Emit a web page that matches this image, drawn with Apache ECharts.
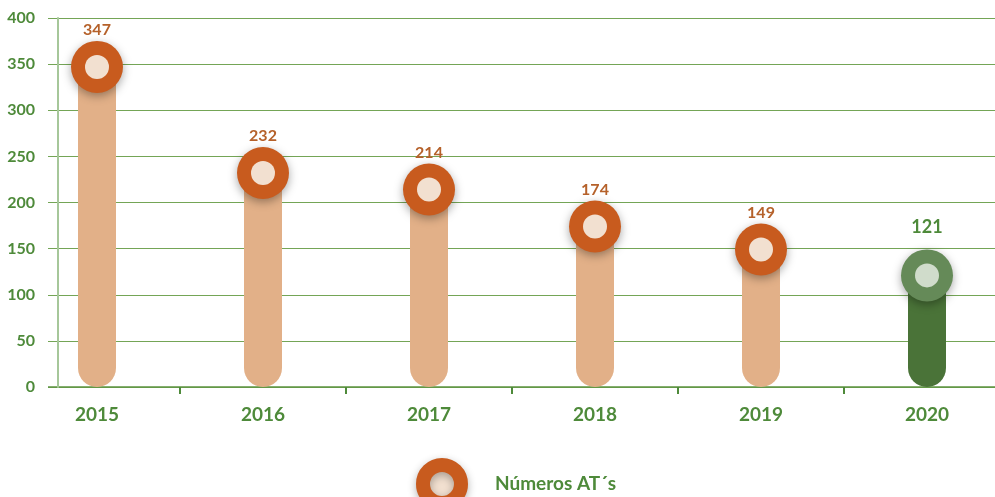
<!DOCTYPE html>
<html>
<head>
<meta charset="utf-8">
<script src="https://cdn.jsdelivr.net/npm/echarts@6/dist/echarts.min.js"></script>
<style>
  html, body { margin: 0; padding: 0; background: #fff; }
  #chart { width: 995px; height: 497px; }
</style>
</head>
<body>
<div id="chart"></div>
<script>
const years = ['2015', '2016', '2017', '2018', '2019', '2020']
const counts = [347, 232, 214, 174, 149, 121]
const yTicks = [0, 50, 100, 150, 200, 250, 300, 350, 400]
const seriesName = 'Números AT´s'

const green = '#4e8a3a'
const orange = '#c85b1e'
const last = years.length - 1

const barData = counts.map((v, i) => ({
  value: v,
  itemStyle: { color: i === last ? '#4a7338' : '#e2b088' }
}))
const outerData = counts.map((v, i) => ({
  value: v,
  itemStyle: { color: i === last ? '#658a58' : orange },
  label: {
    color: i === last ? green : '#b5612a',
    fontSize: i === last ? 18 : 16,
    offset: [0, i === last ? -10 : 0]
  }
}))
const innerData = counts.map((v, i) => ({
  value: v,
  itemStyle: { color: i === last ? '#d0dccb' : '#f2e0d0' }
}))

const chart = echarts.init(document.getElementById('chart'))
chart.setOption({
  animation: false,
  textStyle: { fontFamily: 'Lato' },
  grid: { left: 14, top: 18, width: 996, height: 369, outerBoundsMode: 'none', containLabel: false },
  legend: {
    data: [seriesName],
    left: 411,
    top: 453,
    icon: 'circle',
    itemWidth: 38,
    itemHeight: 38,
    itemStyle: {
      color: '#f2e0d0',
      borderColor: orange,
      borderWidth: 14,
      opacity: 1,
      shadowBlur: 8,
      shadowColor: 'rgba(0,0,0,0.3)',
      shadowOffsetY: 3
    },
    textStyle: { color: green, fontSize: 19, fontWeight: 'bold', fontFamily: 'Lato', padding: [0, 0, 0, 29] }
  },
  graphic: [
    { type: 'rect', z: 1, shape: { x: 0, y: 0, width: 48, height: 400 }, style: { fill: '#fff' } }
  ],
  xAxis: {
    type: 'category',
    data: years,
    z: 0,
    axisLine: { lineStyle: { color: '#5e9442', width: 1.5 } },
    axisTick: { show: true, length: 7, lineStyle: { color: '#4e8a3a', width: 2 } },
    axisLabel: { color: green, fontSize: 19, fontWeight: 'bold', margin: 18 }
  },
  yAxis: [
    {
      type: 'value',
      position: 'left',
      min: yTicks[0],
      max: yTicks[yTicks.length - 1],
      interval: yTicks[1] - yTicks[0],
      z: 0,
      axisLine: { show: false },
      axisTick: { show: false },
      axisLabel: { show: false },
      splitLine: { lineStyle: { color: '#74a556', width: 1 } }
    },
    {
      type: 'value',
      position: 'left',
      min: yTicks[0],
      max: yTicks[yTicks.length - 1],
      interval: yTicks[1] - yTicks[0],
      offset: -44,
      z: 5,
      axisLine: { show: true, lineStyle: { color: '#a6c79a', width: 2 } },
      axisTick: { show: false },
      splitLine: { show: false },
      axisLabel: { color: green, fontSize: 16, fontWeight: 'bold', margin: 23 }
    }
  ],
  series: [
    {
      type: 'bar',
      data: barData,
      barWidth: 38,
      z: 2,
      itemStyle: { borderRadius: [0, 0, 19, 19] }
    },
    {
      name: seriesName,
      type: 'scatter',
      data: outerData,
      symbolSize: 52,
      z: 3,
      itemStyle: {
        color: orange,
        opacity: 1,
        shadowBlur: 10,
        shadowColor: 'rgba(0,0,0,0.35)',
        shadowOffsetY: 3
      },
      label: {
        show: true,
        position: 'top',
        distance: 3,
        fontWeight: 'bold',
        fontFamily: 'Lato'
      }
    },
    {
      type: 'scatter',
      data: innerData,
      symbolSize: 24,
      z: 4,
      silent: true,
      itemStyle: { opacity: 1 }
    }
  ]
})
</script>
</body>
</html>
